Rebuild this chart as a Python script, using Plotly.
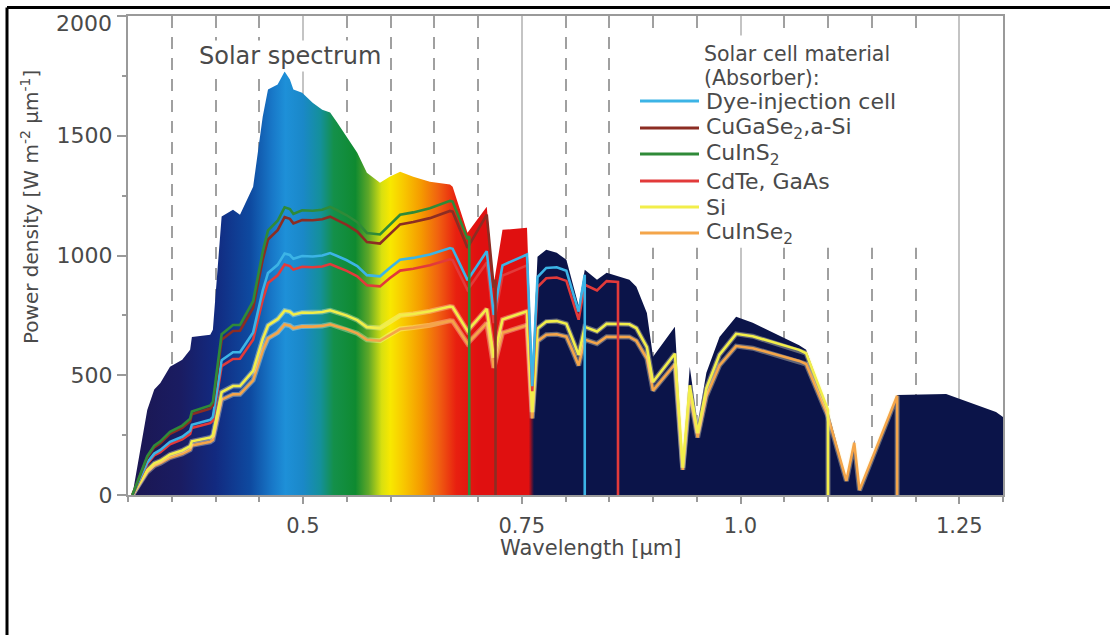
import plotly.graph_objects as go

# ---------------- data ----------------
wavelength = [0.305, 0.322, 0.330, 0.337, 0.348, 0.362, 0.371, 0.373, 0.394, 0.397,
              0.407, 0.420, 0.428, 0.443, 0.454, 0.460, 0.471, 0.479, 0.485, 0.489,
              0.499, 0.511, 0.522, 0.531, 0.539, 0.550, 0.562, 0.573, 0.588, 0.599,
              0.611, 0.626, 0.645, 0.668, 0.671, 0.688, 0.710, 0.718, 0.728, 0.756,
              0.762, 0.768, 0.778, 0.790, 0.801, 0.808, 0.815, 0.822, 0.836, 0.847,
              0.873, 0.881, 0.893, 0.900, 0.925, 0.934, 0.942, 0.951, 0.961, 0.976,
              0.995, 1.014, 1.037, 1.067, 1.075, 1.100, 1.121, 1.130, 1.136, 1.179,
              1.235, 1.292, 1.300]

spectrum = [0, 355, 440, 468, 535, 565, 606, 660, 669, 690,
            1163, 1191, 1170, 1287, 1580, 1693, 1714, 1768, 1735, 1693,
            1680, 1638, 1609, 1597, 1555, 1497, 1429, 1346, 1304, 1329,
            1350, 1329, 1308, 1296, 1287, 1095, 1204, 880, 1107, 1116,
            500, 995, 1024, 1011, 982, 886, 790, 940, 899, 928,
            899, 870, 760, 577, 702, 134, 535, 300, 510, 660,
            744, 719, 677, 625, 606, 355, 63, 230, 21, 418,
            422, 347, 326]

material_names = ["Dye-injection cell", "CuGaSe<sub>2</sub>,a-Si", "CuInS<sub>2</sub>",
                  "CdTe, GaAs", "Si", "CuInSe<sub>2</sub>"]
cutoff_wavelength = [0.822, 0.720, 0.690, 0.860, 1.100, 1.179]

dye_power = [0, 136, 173, 188, 222, 243, 268, 293, 314, 326,
             563, 596, 596, 679, 854, 927, 961, 1008, 1002, 986,
             998, 996, 1000, 1010, 998, 980, 956, 918, 913, 948,
             982, 990, 1004, 1031, 1028, 897, 1018, 752, 959, 1004,
             454, 910, 948, 951, 936, 852, 766, 920, 0]
cugase_power = [0, 157, 199, 216, 255, 280, 308, 337, 361, 375,
                648, 685, 686, 781, 983, 1067, 1106, 1160, 1153, 1134,
                1148, 1147, 1151, 1162, 1148, 1128, 1100, 1056, 1050, 1090,
                1130, 1140, 1156, 1186, 1183, 1032, 1171, 866, 900, 0]
cuins_power = [0, 162, 206, 224, 264, 290, 319, 349, 374, 389,
               671, 710, 710, 809, 1017, 1105, 1145, 1201, 1194, 1174,
               1189, 1187, 1191, 1203, 1189, 1168, 1139, 1094, 1088, 1129,
               1170, 1180, 1197, 1228, 1225, 1069, 1080, 0]
cdte_power = [0, 130, 165, 179, 212, 232, 255, 280, 300, 311,
              538, 568, 569, 648, 815, 885, 917, 962, 956, 941,
              953, 951, 954, 964, 952, 936, 913, 876, 871, 905,
              937, 945, 959, 984, 981, 856, 971, 718, 916, 959,
              433, 868, 905, 908, 894, 814, 732, 878, 854, 893, 890, 0]
si_power = [0, 104, 132, 143, 169, 186, 204, 224, 240, 249,
            430, 455, 455, 518, 652, 708, 734, 770, 765, 753,
            762, 761, 764, 771, 762, 749, 730, 701, 697, 724,
            750, 756, 767, 787, 785, 685, 777, 574, 733, 767,
            346, 695, 724, 726, 715, 651, 585, 702, 683, 715,
            713, 697, 617, 472, 590, 114, 458, 259, 446, 586,
            673, 663, 638, 606, 592, 355, 0]
cuinse_power = [0, 96, 122, 133, 156, 172, 189, 207, 222, 230,
                398, 420, 421, 479, 603, 654, 678, 712, 707, 696,
                704, 703, 706, 713, 704, 692, 675, 648, 644, 669,
                693, 699, 709, 727, 726, 633, 718, 531, 677, 709,
                320, 642, 669, 671, 661, 602, 541, 649, 632, 661,
                660, 644, 570, 436, 546, 105, 424, 240, 412, 541,
                622, 613, 590, 560, 547, 328, 59, 218, 20, 414, 0]

y_tick_values = [0, 500, 1000, 1500, 2000]
y_tick_labels = ["0", "500", "1000", "1500", ""]
x_tick_values = [0.5, 0.75, 1.0, 1.25]
x_tick_labels = ["0.5", "0.75", "1.0", "1.25"]

# ---------------- styles ----------------
FONT = "DejaVu Sans"
TXT = "#4a4a4a"
line_colors = ["#3cb4e6", "#8c2d23", "#2f8a38", "#e23a3a", "#f2ee4a", "#f4a54a"]

# rainbow for the visible range, navy beyond
grad_pos = [0.0, 0.06, 0.10, 0.14, 0.165, 0.18, 0.20, 0.22, 0.235, 0.26, 0.275,
            0.29, 0.30, 0.315, 0.335, 0.355, 0.375, 0.40, 0.458, 0.464, 1.0]
grad_col = ["#1b1650", "#1a1c62", "#122a80", "#0e4aa0", "#1878c8", "#1e90d8",
            "#1a88c8", "#14909a", "#14904a", "#0f8a30", "#60a828", "#d8e010",
            "#f8e800", "#f8c800", "#f59a00", "#f06010", "#e82010", "#e01010",
            "#e01010", "#0b1449", "#0b1449"]

fig = go.Figure()

fig.add_trace(go.Scatter(
    x=wavelength, y=spectrum, mode="lines", fill="tozeroy",
    line=dict(width=0, color="rgba(0,0,0,0)"),
    fillgradient=dict(type="horizontal", start=0.3, stop=1.3,
                      colorscale=[[p, c] for p, c in zip(grad_pos, grad_col)]),
    showlegend=False, hoverinfo="skip"))

series = [
    (wavelength[:48] + [cutoff_wavelength[0]], dye_power),
    (wavelength[:38] + [cutoff_wavelength[1]] * 2, cugase_power),
    (wavelength[:36] + [cutoff_wavelength[2]] * 2, cuins_power),
    (wavelength[:50] + [cutoff_wavelength[3]] * 2, cdte_power),
    (wavelength[:66] + [cutoff_wavelength[4]], si_power),
    (wavelength[:70] + [cutoff_wavelength[5]], cuinse_power),
]

draw_order = [5, 4, 3, 0, 1, 2]
for i in draw_order:
    xs, ys = series[i]
    if i in (4, 5):
        fig.add_trace(go.Scatter(x=xs, y=ys, mode="lines",
                                 line=dict(color="rgba(255,250,210,0.35)", width=5),
                                 showlegend=False, hoverinfo="skip"))
    fig.add_trace(go.Scatter(x=xs, y=ys, mode="lines", name=material_names[i],
                             line=dict(color=line_colors[i], width=2.6),
                             showlegend=False))

# geometry helpers (plot area 128..1003 px wide, 16..495 px high)
L, R, T, B = 128, 1003, 16, 495
def px(xp):
    return (xp - L) / (R - L)
def py(yp):
    return (B - yp) / (B - T)

shapes = []
annotations = []

# legend white backing (covers grid lines, under traces)
shapes.append(dict(type="rect", xref="x", yref="y", layer="between",
                   x0=0.5 + (630 - 303) / 876, x1=0.5 + (950 - 303) / 876,
                   y0=(B - 248) / 0.23925, y1=(B - 36) / 0.23925,
                   fillcolor="white", line=dict(width=0)))

# outer frame of the picture
shapes.append(dict(type="line", xref="paper", yref="paper",
                   x0=px(7), x1=px(1115), y0=py(7.5), y1=py(7.5),
                   line=dict(color="black", width=3)))
shapes.append(dict(type="line", xref="paper", yref="paper",
                   x0=px(7), x1=px(7), y0=py(7.5), y1=py(645),
                   line=dict(color="black", width=3)))

# legend (built from the series lists)
legend_rows = [101, 128, 154, 181, 207, 233]
for name, col, yy in zip(material_names, line_colors, legend_rows):
    shapes.append(dict(type="line", xref="paper", yref="paper",
                       x0=px(640), x1=px(699), y0=py(yy), y1=py(yy),
                       line=dict(color=col, width=3)))
    annotations.append(dict(xref="paper", yref="paper", x=px(704), y=py(yy),
                            xanchor="left", yanchor="middle", showarrow=False,
                            text=name, font=dict(family=FONT, size=22, color=TXT)))
annotations.append(dict(xref="paper", yref="paper", x=px(703), y=py(54),
                        xanchor="left", yanchor="middle", showarrow=False, borderpad=0,
                        text="Solar cell material", font=dict(family=FONT, size=20.5, color=TXT)))
annotations.append(dict(xref="paper", yref="paper", x=px(703), y=py(78),
                        xanchor="left", yanchor="middle", showarrow=False, borderpad=0,
                        text="(Absorber):", font=dict(family=FONT, size=20.5, color=TXT)))

annotations.append(dict(xref="paper", yref="paper", x=px(290), y=py(56),
                        xanchor="center", yanchor="middle", showarrow=False,
                        text="Solar spectrum", bgcolor="white", borderpad=1,
                        font=dict(family=FONT, size=24, color=TXT)))

annotations.append(dict(xref="paper", yref="paper", x=px(590), y=py(548),
                        xanchor="center", yanchor="middle", showarrow=False,
                        text="Wavelength [µm]", font=dict(family=FONT, size=21, color=TXT)))
annotations.append(dict(xref="paper", yref="paper", x=px(30), y=py(207),
                        xanchor="center", yanchor="middle", showarrow=False, textangle=-90,
                        text="Power density [W m<sup>-2</sup> µm<sup>-1</sup>]",
                        font=dict(family=FONT, size=20, color=TXT)))
annotations.append(dict(xref="paper", yref="paper", x=px(114), y=py(24),
                        xanchor="right", yanchor="middle", showarrow=False,
                        text="2000", font=dict(family=FONT, size=22, color=TXT)))

fig.update_layout(
    width=1110, height=635,
    margin=dict(l=L, r=1110 - R, t=T, b=635 - B),
    paper_bgcolor="white", plot_bgcolor="rgba(0,0,0,0)",
    showlegend=False,
    shapes=shapes, annotations=annotations,
    font=dict(family=FONT, color=TXT),
    xaxis=dict(range=[0.3, 1.3], tickmode="array", tickvals=x_tick_values, ticktext=x_tick_labels,
               showline=True, linecolor="#9a9a9a", linewidth=2, mirror=True,
               ticks="outside", ticklen=7, tickcolor="#9a9a9a", tickwidth=1.5,
               ticklabelstandoff=4,
               tickfont=dict(family=FONT, size=21, color=TXT),
               showgrid=True, gridcolor="#c4c4c4", gridwidth=1.5, zeroline=False,
               minor=dict(dtick=0.05, tick0=0.3, ticks="outside", ticklen=5,
                          tickcolor="#9a9a9a", showgrid=True, gridcolor="#a0a0a0",
                          griddash="12px,9px", gridwidth=1.6)),
    yaxis=dict(range=[0, 2000], tickmode="array", tickvals=y_tick_values, ticktext=y_tick_labels,
               showline=True, linecolor="#9a9a9a", linewidth=2, mirror=True,
               ticks="outside", ticklen=9, tickcolor="#9a9a9a", tickwidth=1.5,
               tickfont=dict(family=FONT, size=22, color=TXT),
               showgrid=False, zeroline=False,
               minor=dict(dtick=250, tick0=0, ticks="outside", ticklen=4, tickcolor="#9a9a9a")),
)

fig.write_html("out.html")
